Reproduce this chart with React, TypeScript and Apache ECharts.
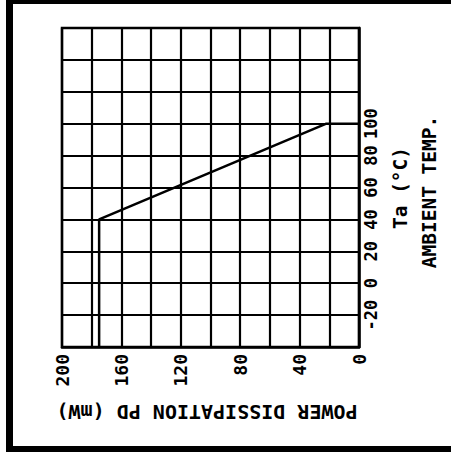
import React, { useEffect, useRef } from "react";
import * as echarts from "echarts";

// Power dissipation (mW) vs ambient temperature (°C) curve points
const powerMw = [175, 175, 22, 0];
const ambientTempC = [-40, 40, 100, 100];

// Tick labels shown
const powerTickLabels = [0, 40, 80, 120, 160, 200];
const tempTickLabels = [-20, 0, 20, 40, 60, 80, 100];

const xTitle = "POWER DISSIPATION PD (mW)";
const yTitle1 = "Ta (°C)";
const yTitle2 = "AMBIENT TEMP.";

const FONT = "DejaVu Sans Mono";

export default function App() {
  const ref = useRef<HTMLDivElement>(null);
  useEffect(() => {
    if (!ref.current) return;
    const chart = echarts.init(ref.current, null, { renderer: "svg" });
    const data = powerMw.map((p, i) => [p, ambientTempC[i]]);
    const titleStyle = {
      align: "center",
      verticalAlign: "middle",
      fill: "#000",
      fontFamily: FONT,
      fontWeight: "bold",
      fontSize: 19.5,
    };
    chart.setOption({
      animation: false,
      backgroundColor: "#ffffff",
      grid: {
        left: 62,
        right: 92,
        top: 28,
        bottom: 112,
        show: true,
        borderColor: "#000",
        borderWidth: 2.5,
      },
      xAxis: {
        type: "value",
        min: 0,
        max: 200,
        interval: 20,
        inverse: true,
        position: "bottom",
        axisLine: { show: true, onZero: false, lineStyle: { color: "#000", width: 2.5 } },
        axisTick: { show: false },
        splitLine: { show: true, lineStyle: { color: "#000", width: 2.2 } },
        axisLabel: {
          rotate: 90,
          margin: 7,
          color: "#000",
          fontFamily: FONT,
          fontWeight: "bold",
          fontSize: 18,
          formatter: (v: number) => (powerTickLabels.includes(v) ? String(v) : ""),
        },
      },
      yAxis: {
        type: "value",
        min: -40,
        max: 160,
        interval: 20,
        position: "right",
        axisLine: { show: true, onZero: false, lineStyle: { color: "#000", width: 2.5 } },
        axisTick: { show: false },
        splitLine: { show: true, lineStyle: { color: "#000", width: 2.2 } },
        axisLabel: {
          rotate: 90,
          margin: 3,
          color: "#000",
          fontFamily: FONT,
          fontWeight: "bold",
          fontSize: 17,
          formatter: (v: number) => (tempTickLabels.includes(v) ? String(v) : ""),
        },
      },
      series: [
        {
          type: "line",
          data,
          showSymbol: false,
          lineStyle: { color: "#000", width: 2.5 },
        },
      ],
      graphic: [
        { type: "rect", shape: { x: 7, y: 0, width: 444, height: 4 }, style: { fill: "#000" } },
        { type: "rect", shape: { x: 6, y: 0, width: 7, height: 452 }, style: { fill: "#000" } },
        { type: "rect", shape: { x: 6, y: 446, width: 445, height: 6 }, style: { fill: "#000" } },
        {
          type: "text",
          x: 207,
          y: 412,
          rotation: Math.PI,
          style: { text: xTitle, ...titleStyle, fontSize: 20 },
        },
        {
          type: "text",
          x: 400,
          y: 188,
          rotation: Math.PI / 2,
          style: { text: yTitle1, ...titleStyle },
        },
        {
          type: "text",
          x: 429,
          y: 192,
          rotation: Math.PI / 2,
          style: { text: yTitle2, ...titleStyle },
        },
      ],
    });
    return () => chart.dispose();
  }, []);
  return (
    <div
      ref={ref}
      style={{ position: "fixed", left: 0, top: 0, width: 451, height: 459 }}
    />
  );
}
